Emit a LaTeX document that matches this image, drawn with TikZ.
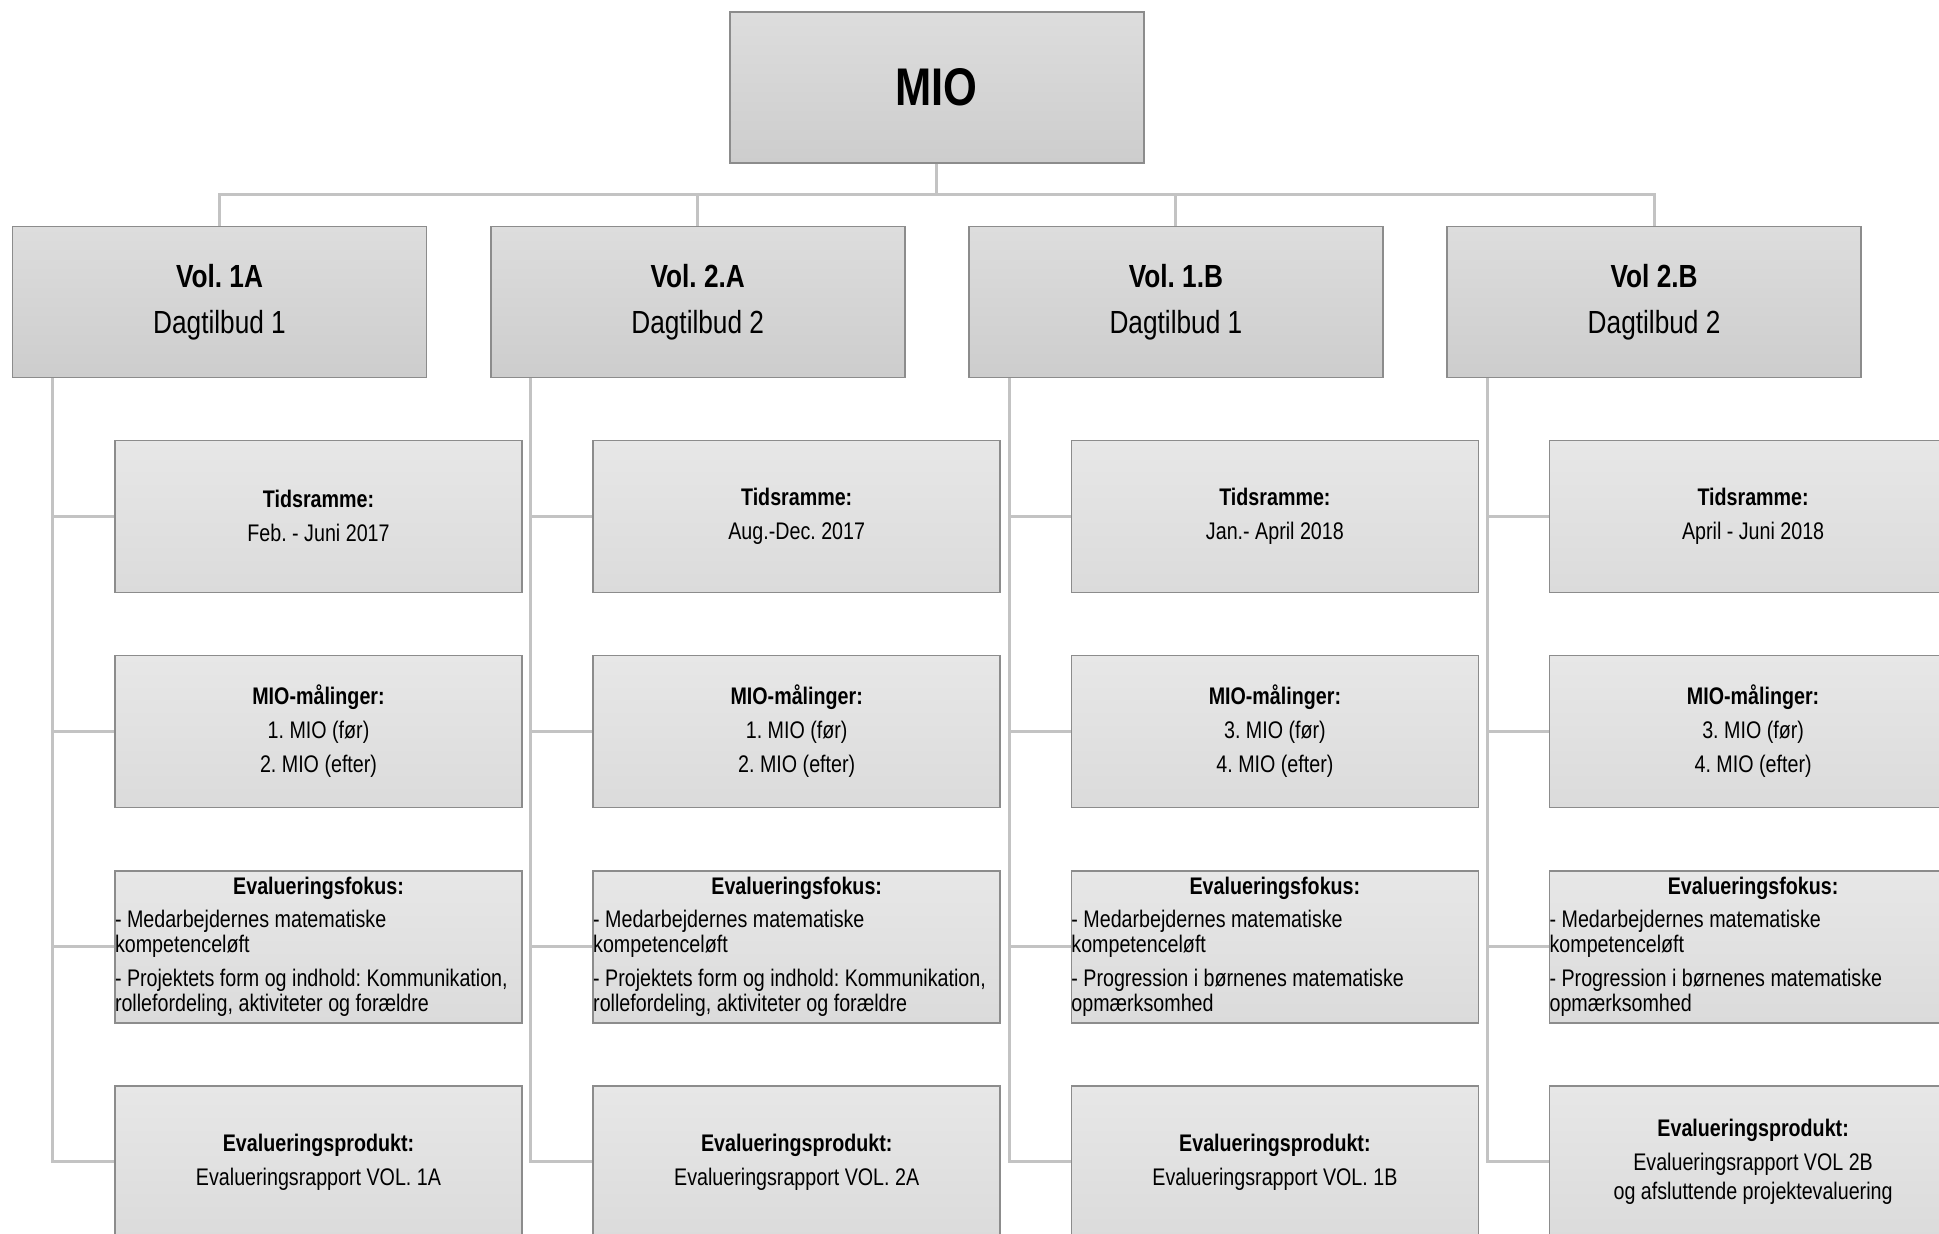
\documentclass[tikz,border=0pt]{standalone}
\usepackage{fontspec}
\setmainfont[FakeStretch=0.82]{Liberation Sans}
\frenchspacing

\definecolor{boxline}{RGB}{140,140,140}
\definecolor{linkline}{RGB}{195,195,195}
\definecolor{headtop}{RGB}{221,221,221}
\definecolor{headbot}{RGB}{205,205,205}
\definecolor{lowtop}{RGB}{231,231,231}
\definecolor{lowbot}{RGB}{219,219,219}

\tikzset{every picture/.style={line width=0.75pt}}
\tikzset{
  headbox/.style={draw=boxline, line width=0.8pt, top color=headtop, bottom color=headbot,
    minimum width=207pt, minimum height=75.5pt, inner sep=0pt, align=center},
  volbox/.style={headbox, font=\fontsize{16}{23}\selectfont},
  lowbox/.style={draw=boxline, line width=0.8pt, top color=lowtop, bottom color=lowbot,
    minimum width=203.5pt, minimum height=76pt, inner sep=0pt, align=center,
    font=\fontsize{12}{17}\selectfont},
  fokusbox/.style={lowbox, align=left, font=\fontsize{12}{12.6}\selectfont}
}
\tikzset{conn/.style={draw=linkline, line width=1.5pt}}
\newcommand{\fokustitle}{\makebox[203.5pt]{\bfseries Evalueringsfokus:}}

\begin{document}
\begin{tikzpicture}[x=0.5pt,y=0.5pt,yscale=-1,xscale=1]
	%set diagram to 1939 x 1233
	\useasboundingbox (0,0) rectangle (1939,1233);
	\clip (0,0) rectangle (1939,1233);

	%Top box
	\node [headbox, font=\fontsize{26.5}{30}\selectfont\bfseries] (mio) at (936.7,87.2) {MIO};

	%Vol boxes
	\node [volbox] (vol1a) at (219.5,301.8) {\textbf{Vol. 1A}\\Dagtilbud 1};
	\node [volbox] (vol2a) at (697.7,301.8) {\textbf{Vol. 2.A}\\Dagtilbud 2};
	\node [volbox] (vol1b) at (1175.9,301.8) {\textbf{Vol. 1.B}\\Dagtilbud 1};
	\node [volbox] (vol2b) at (1654.1,301.8) {\textbf{Vol 2.B}\\Dagtilbud 2};

	%Column Vol. 1A
	\node [lowbox] (tid1a) at (318.5,516.3) {\textbf{Tidsramme:}\\Feb. - Juni 2017};
	\node [lowbox] (maal1a) at (318.5,731.5) {\textbf{MIO-målinger:}\\1. MIO (før)\\2. MIO (efter)};
	\node [fokusbox] (fokus1a) at (318.5,946.7) {\fokustitle\\[4pt]
		- Medarbejdernes matematiske\\kompetenceløft\\[4pt]
		- Projektets form og indhold: Kommunikation,\\rollefordeling, aktiviteter og forældre};
	\node [lowbox] (prod1a) at (318.5,1161.8) {\textbf{Evalueringsprodukt:}\\Evalueringsrapport VOL. 1A};

	%Column Vol. 2.A
	\node [lowbox] (tid2a) at (796.7,516.3) {\textbf{Tidsramme:}\\Aug.-Dec. 2017};
	\node [lowbox] (maal2a) at (796.7,731.5) {\textbf{MIO-målinger:}\\1. MIO (før)\\2. MIO (efter)};
	\node [fokusbox] (fokus2a) at (796.7,946.7) {\fokustitle\\[4pt]
		- Medarbejdernes matematiske\\kompetenceløft\\[4pt]
		- Projektets form og indhold: Kommunikation,\\rollefordeling, aktiviteter og forældre};
	\node [lowbox] (prod2a) at (796.7,1161.8) {\textbf{Evalueringsprodukt:}\\Evalueringsrapport VOL. 2A};

	%Column Vol. 1.B
	\node [lowbox] (tid1b) at (1274.9,516.3) {\textbf{Tidsramme:}\\Jan.- April 2018};
	\node [lowbox] (maal1b) at (1274.9,731.5) {\textbf{MIO-målinger:}\\3. MIO (før)\\4. MIO (efter)};
	\node [fokusbox] (fokus1b) at (1274.9,946.7) {\fokustitle\\[4pt]
		- Medarbejdernes matematiske\\kompetenceløft\\[4pt]
		- Progression i børnenes matematiske\\opmærksomhed};
	\node [lowbox] (prod1b) at (1274.9,1161.8) {\textbf{Evalueringsprodukt:}\\Evalueringsrapport VOL. 1B};

	%Column Vol 2.B
	\node [lowbox] (tid2b) at (1753.1,516.3) {\textbf{Tidsramme:}\\April - Juni 2018};
	\node [lowbox] (maal2b) at (1753.1,731.5) {\textbf{MIO-målinger:}\\3. MIO (før)\\4. MIO (efter)};
	\node [fokusbox] (fokus2b) at (1753.1,946.7) {\fokustitle\\[4pt]
		- Medarbejdernes matematiske\\kompetenceløft\\[4pt]
		- Progression i børnenes matematiske\\opmærksomhed};
	\node [lowbox] (prod2b) at (1753.1,1161.8) {\textbf{Evalueringsprodukt:}\\Evalueringsrapport VOL 2B\\[-2.5pt]og afsluttende projektevaluering};

	%Connectors from top box
	\coordinate (bus) at (936.7,194);
	\draw [conn] (mio.south) -- (bus);
	\draw [conn] (bus) -| (vol1a.north);
	\draw [conn] (bus) -| (vol2a.north);
	\draw [conn] (bus) -| (vol1b.north);
	\draw [conn] (bus) -| (vol2b.north);

	%Spines under the vol boxes
	\coordinate (sp1a) at ([xshift=20.5pt]vol1a.south west);
	\coordinate (sp2a) at ([xshift=20.5pt]vol2a.south west);
	\coordinate (sp1b) at ([xshift=20.5pt]vol1b.south west);
	\coordinate (sp2b) at ([xshift=20.5pt]vol2b.south west);
	\draw [conn] (sp1a) |- (tid1a.west);
	\draw [conn] (sp1a) |- (maal1a.west);
	\draw [conn] (sp1a) |- (fokus1a.west);
	\draw [conn] (sp1a) |- (prod1a.west);
	\draw [conn] (sp2a) |- (tid2a.west);
	\draw [conn] (sp2a) |- (maal2a.west);
	\draw [conn] (sp2a) |- (fokus2a.west);
	\draw [conn] (sp2a) |- (prod2a.west);
	\draw [conn] (sp1b) |- (tid1b.west);
	\draw [conn] (sp1b) |- (maal1b.west);
	\draw [conn] (sp1b) |- (fokus1b.west);
	\draw [conn] (sp1b) |- (prod1b.west);
	\draw [conn] (sp2b) |- (tid2b.west);
	\draw [conn] (sp2b) |- (maal2b.west);
	\draw [conn] (sp2b) |- (fokus2b.west);
	\draw [conn] (sp2b) |- (prod2b.west);
\end{tikzpicture}
\end{document}
